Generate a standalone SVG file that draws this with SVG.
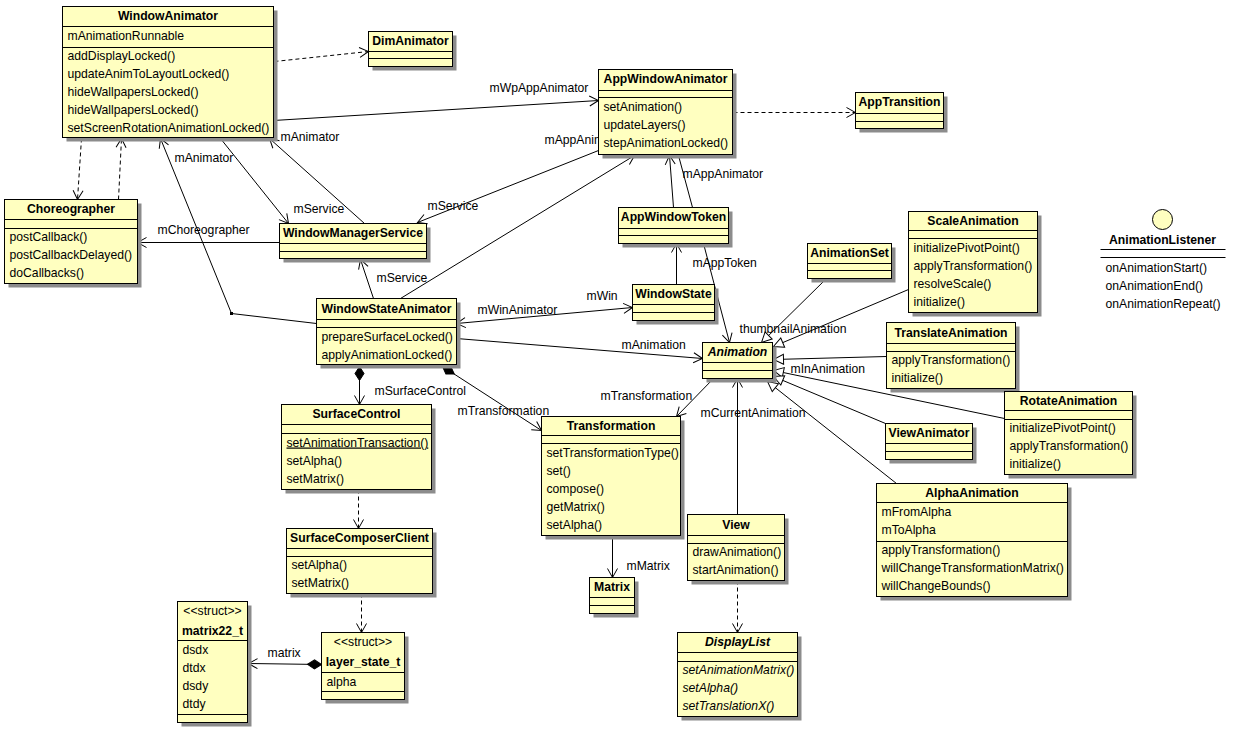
<svg xmlns="http://www.w3.org/2000/svg" width="1236" height="738" viewBox="0 0 1236 738">
<defs>
<style>
.sh{fill:#8c8c8c}
.bx{fill:#FFFFC0;stroke:#000;stroke-width:1}
.dv{stroke:#000;stroke-width:1;fill:none}
text{font-family:"Liberation Sans",Arial,Helvetica,sans-serif;font-size:12.2px;fill:#000}
.ti{font-weight:bold;text-anchor:middle}
.it{font-style:italic}
.ln{fill:none;stroke:#000;stroke-width:1}
.ds{stroke-dasharray:4,3}
.ar{marker-end:url(#arrow)}
.ge{marker-end:url(#tri)}
.dm{marker-start:url(#diamond)}
.ab{marker-start:url(#arrowS);marker-end:url(#arrow)}
</style>
<clipPath id="clipAwa"><rect x="500" y="120" width="97.5" height="40"/></clipPath>
<marker id="arrow" markerUnits="userSpaceOnUse" markerWidth="20" markerHeight="20" refX="0" refY="0" orient="auto" overflow="visible"><path d="M-9,-5 L0,0 L-9,5" fill="none" stroke="#000" stroke-width="1"/></marker>
<marker id="arrowS" markerUnits="userSpaceOnUse" markerWidth="20" markerHeight="20" refX="0" refY="0" orient="auto" overflow="visible"><path d="M9,-5 L0,0 L9,5" fill="none" stroke="#000" stroke-width="1"/></marker>
<marker id="tri" markerUnits="userSpaceOnUse" markerWidth="20" markerHeight="20" refX="0" refY="0" orient="auto" overflow="visible"><path d="M-10,-5 L0,0 L-10,5 Z" fill="#fff" stroke="#000" stroke-width="1"/></marker>
<marker id="diamond" markerUnits="userSpaceOnUse" markerWidth="20" markerHeight="20" refX="0" refY="0" orient="auto" overflow="visible"><path d="M0,0 L7,-4.5 L14,0 L7,4.5 Z" fill="#000" stroke="#000" stroke-width="1"/></marker>
</defs>
<rect width="1236" height="738" fill="#fff"/>
<g transform="translate(0.5,0.5)">
<g id="connectors">
<path class="ln ds ar" d="M274,61 L368,51"/>
<path class="ln ds ar" d="M81,138 L77,199"/>
<path class="ln ds ar" d="M118,199 L121,138"/>
<path class="ln ar" d="M273,120 L598,100"/>
<text x="489" y="91">mWpAppAnimator</text>
<path class="ln ds ar" d="M733,112 L855,112"/>
<path class="ln ar" d="M364,223 L269,138"/>
<text x="280" y="140">mAnimator</text>
<path class="ln ar" d="M220,138 L288,223"/>
<text x="174" y="161">mAnimator</text>
<text x="293" y="212">mService</text>
<path class="ln ar" d="M279,242 L137,242"/>
<text x="157" y="233">mChoreographer</text>
<path class="ln ar" d="M373,298 L360,259"/>
<text x="376" y="281">mService</text>
<path class="ln ar" d="M316,323 L231,313 L160,138"/>
<rect x="229.5" y="311.5" width="3" height="3" fill="#000"/>
<path class="ln ar" d="M400,298 L634,155"/>
<text x="544" y="143" clip-path="url(#clipAwa)">mAppAnimator</text>
<path class="ln ar" d="M598,150 L417,222"/>
<text x="427" y="209">mService</text>
<path class="ln ar" d="M673,207 L669,155"/>
<path class="ln" d="M678,155 L692,207"/>
<text x="682" y="177">mAppAnimator</text>
<path class="ln ar" d="M676,284 L676,243"/>
<path class="ln ar" d="M703,243 L729,342"/>
<text x="692" y="266">mAppToken</text>
<path class="ln ab" d="M456,323 L632,307"/>
<text x="477" y="313">mWinAnimator</text>
<text x="586" y="299">mWin</text>
<path class="ln ar" d="M456,338 L702,358"/>
<text x="621" y="348">mAnimation</text>
<path class="ln ar" d="M713,378 L676,416"/>
<text x="600" y="399">mTransformation</text>
<path class="ln dm ar" d="M442,366 L541,430"/>
<text x="374" y="394">mSurfaceControl</text>
<text x="457" y="414">mTransformation</text>
<path class="ln dm ar" d="M359,366 L359,404"/>
<path class="ln ds ar" d="M358,489 L358,528"/>
<path class="ln ds ar" d="M361,593 L361,632"/>
<path class="ln dm ar" d="M321,664 L248,663"/>
<text x="267" y="656">matrix</text>
<path class="ln ar" d="M612,535 L612,577"/>
<text x="626" y="569">mMatrix</text>
<path class="ln ar" d="M737,514 L737,378"/>
<text x="700" y="416">mCurrentAnimation</text>
<path class="ln ds ar" d="M737,580 L737,632"/>
<path class="ln ge" d="M825,279 L761,342"/>
<text x="739" y="332">thumbnailAnimation</text>
<path class="ln ge" d="M908,289 L773,346"/>
<path class="ln ge" d="M886,356 L773,359"/>
<path class="ln ge" d="M1004,418 L773,370"/>
<path class="ln ge" d="M885,423 L773,376"/>
<path class="ln ge" d="M896,483 L767,381"/>
<text x="790" y="372">mInAnimation</text>
</g>

<g id="WindowAnimator">
<rect class="sh" x="66" y="10" width="211" height="131"/>
<rect class="bx" x="62" y="6" width="211" height="131"/>
<path class="dv" d="M62,26H273M62,47H273"/>
<text class="ti" x="167.5" y="19">WindowAnimator</text>
<text x="67" y="39">mAnimationRunnable</text>
<text x="67" y="59">addDisplayLocked()</text>
<text x="67" y="77">updateAnimToLayoutLocked()</text>
<text x="67" y="95">hideWallpapersLocked()</text>
<text x="67" y="113">hideWallpapersLocked()</text>
<text x="67" y="131">setScreenRotationAnimationLocked()</text>
</g>
<g id="DimAnimator">
<rect class="sh" x="372" y="35" width="84" height="35"/>
<rect class="bx" x="368" y="31" width="84" height="35"/>
<path class="dv" d="M368,51H452M368,58H452"/>
<text class="ti" x="410" y="44">DimAnimator</text>
</g>
<g id="AppWindowAnimator">
<rect class="sh" x="602" y="73" width="134" height="85"/>
<rect class="bx" x="598" y="69" width="134" height="85"/>
<path class="dv" d="M598,90H732M598,97H732"/>
<text class="ti" x="665" y="82">AppWindowAnimator</text>
<text x="603" y="110">setAnimation()</text>
<text x="603" y="128">updateLayers()</text>
<text x="603" y="146">stepAnimationLocked()</text>
</g>
<g id="AppTransition">
<rect class="sh" x="859" y="96" width="88" height="36"/>
<rect class="bx" x="855" y="92" width="88" height="36"/>
<path class="dv" d="M855,113H943M855,121H943"/>
<text class="ti" x="899" y="105">AppTransition</text>
</g>
<g id="Choreographer">
<rect class="sh" x="8" y="203" width="133" height="84"/>
<rect class="bx" x="4" y="199" width="133" height="84"/>
<path class="dv" d="M4,219H137M4,228H137"/>
<text class="ti" x="70.5" y="212">Choreographer</text>
<text x="9" y="240">postCallback()</text>
<text x="9" y="258">postCallbackDelayed()</text>
<text x="9" y="276">doCallbacks()</text>
</g>
<g id="WindowManagerService">
<rect class="sh" x="283" y="227" width="147" height="35"/>
<rect class="bx" x="279" y="223" width="147" height="35"/>
<path class="dv" d="M279,243H426M279,251H426"/>
<text class="ti" x="352.5" y="236">WindowManagerService</text>
</g>
<g id="WindowStateAnimator">
<rect class="sh" x="320" y="302" width="140" height="66"/>
<rect class="bx" x="316" y="298" width="140" height="66"/>
<path class="dv" d="M316,319H456M316,327H456"/>
<text class="ti" x="386" y="312">WindowStateAnimator</text>
<text x="321" y="340">prepareSurfaceLocked()</text>
<text x="321" y="358">applyAnimationLocked()</text>
</g>
<g id="SurfaceControl">
<rect class="sh" x="285" y="408" width="150" height="85"/>
<rect class="bx" x="281" y="404" width="150" height="85"/>
<path class="dv" d="M281,424H431M281,433H431"/>
<text class="ti" x="356" y="417">SurfaceControl</text>
<text x="286" y="446" text-decoration="underline">setAnimationTransaction()</text>
<text x="286" y="464">setAlpha()</text>
<text x="286" y="482">setMatrix()</text>
</g>
<g id="SurfaceComposerClient">
<rect class="sh" x="290" y="532" width="146" height="65"/>
<rect class="bx" x="286" y="528" width="146" height="65"/>
<path class="dv" d="M286,548H432M286,556H432"/>
<text class="ti" x="359" y="541">SurfaceComposerClient</text>
<text x="291" y="568">setAlpha()</text>
<text x="291" y="586">setMatrix()</text>
</g>
<g id="matrix22_t">
<rect class="sh" x="181" y="605" width="70" height="121"/>
<rect class="bx" x="177" y="601" width="70" height="121"/>
<path class="dv" d="M177,640H247M177,714H247"/>
<text x="212" y="614" text-anchor="middle">&lt;&lt;struct&gt;&gt;</text>
<text class="ti" x="212" y="634">matrix22_t</text>
<text x="182" y="653">dsdx</text>
<text x="182" y="671">dtdx</text>
<text x="182" y="689">dsdy</text>
<text x="182" y="707">dtdy</text>
</g>
<g id="layer_state_t">
<rect class="sh" x="325" y="636" width="83" height="67"/>
<rect class="bx" x="321" y="632" width="83" height="67"/>
<path class="dv" d="M321,672H404M321,691H404"/>
<text x="362.5" y="645" text-anchor="middle">&lt;&lt;struct&gt;&gt;</text>
<text class="ti" x="362.5" y="665">layer_state_t</text>
<text x="326" y="685">alpha</text>
</g>
<g id="Transformation">
<rect class="sh" x="545" y="420" width="139" height="119"/>
<rect class="bx" x="541" y="416" width="139" height="119"/>
<path class="dv" d="M541,435H680M541,443H680"/>
<text class="ti" x="610.5" y="429">Transformation</text>
<text x="546" y="456">setTransformationType()</text>
<text x="546" y="474">set()</text>
<text x="546" y="492">compose()</text>
<text x="546" y="510">getMatrix()</text>
<text x="546" y="528">setAlpha()</text>
</g>
<g id="Matrix">
<rect class="sh" x="593" y="581" width="45" height="36"/>
<rect class="bx" x="589" y="577" width="45" height="36"/>
<path class="dv" d="M589,597H634M589,605H634"/>
<text class="ti" x="611.5" y="590">Matrix</text>
</g>
<g id="View">
<rect class="sh" x="691" y="518" width="97" height="66"/>
<rect class="bx" x="687" y="514" width="97" height="66"/>
<path class="dv" d="M687,535H784M687,543H784"/>
<text class="ti" x="735.5" y="528">View</text>
<text x="692" y="555">drawAnimation()</text>
<text x="692" y="573">startAnimation()</text>
</g>
<g id="DisplayList">
<rect class="sh" x="681" y="636" width="120" height="84"/>
<rect class="bx" x="677" y="632" width="120" height="84"/>
<path class="dv" d="M677,652H797M677,661H797"/>
<text class="ti it" x="737" y="645">DisplayList</text>
<text class="it" x="682" y="673">setAnimationMatrix()</text>
<text class="it" x="682" y="691">setAlpha()</text>
<text class="it" x="682" y="709">setTranslationX()</text>
</g>
<g id="AppWindowToken">
<rect class="sh" x="622" y="211" width="110" height="36"/>
<rect class="bx" x="618" y="207" width="110" height="36"/>
<path class="dv" d="M618,228H728M618,235H728"/>
<text class="ti" x="673" y="220">AppWindowToken</text>
</g>
<g id="WindowState">
<rect class="sh" x="636" y="288" width="82" height="36"/>
<rect class="bx" x="632" y="284" width="82" height="36"/>
<path class="dv" d="M632,304H714M632,312H714"/>
<text class="ti" x="673" y="297">WindowState</text>
</g>
<g id="Animation">
<rect class="sh" x="706" y="346" width="70" height="36"/>
<rect class="bx" x="702" y="342" width="70" height="36"/>
<path class="dv" d="M702,362H772M702,370H772"/>
<text class="ti it" x="737" y="355">Animation</text>
</g>
<g id="AnimationSet">
<rect class="sh" x="811" y="247" width="84" height="35"/>
<rect class="bx" x="807" y="243" width="84" height="35"/>
<path class="dv" d="M807,263H891M807,270H891"/>
<text class="ti" x="849" y="256">AnimationSet</text>
</g>
<g id="ScaleAnimation">
<rect class="sh" x="912" y="215" width="129" height="101"/>
<rect class="bx" x="908" y="211" width="129" height="101"/>
<path class="dv" d="M908,230H1037M908,238H1037"/>
<text class="ti" x="972.5" y="224">ScaleAnimation</text>
<text x="913" y="251">initializePivotPoint()</text>
<text x="913" y="269">applyTransformation()</text>
<text x="913" y="287">resolveScale()</text>
<text x="913" y="305">initialize()</text>
</g>
<g id="AnimationListener">
<circle cx="1162" cy="219" r="10" fill="#FFFFC0" stroke="#000"/>
<text class="ti" x="1162" y="243">AnimationListener</text>
<path class="dv" d="M1100,249H1225M1100,257H1225"/>
<text x="1105" y="271">onAnimationStart()</text>
<text x="1105" y="289">onAnimationEnd()</text>
<text x="1105" y="307">onAnimationRepeat()</text>
</g>
<g id="TranslateAnimation">
<rect class="sh" x="890" y="326" width="129" height="66"/>
<rect class="bx" x="886" y="322" width="129" height="66"/>
<path class="dv" d="M886,343H1015M886,351H1015"/>
<text class="ti" x="950.5" y="336">TranslateAnimation</text>
<text x="891" y="363">applyTransformation()</text>
<text x="891" y="381">initialize()</text>
</g>
<g id="RotateAnimation">
<rect class="sh" x="1008" y="395" width="128" height="83"/>
<rect class="bx" x="1004" y="391" width="128" height="83"/>
<path class="dv" d="M1004,410H1132M1004,419H1132"/>
<text class="ti" x="1068" y="404">RotateAnimation</text>
<text x="1009" y="431">initializePivotPoint()</text>
<text x="1009" y="449">applyTransformation()</text>
<text x="1009" y="467">initialize()</text>
</g>
<g id="ViewAnimator">
<rect class="sh" x="889" y="427" width="87" height="36"/>
<rect class="bx" x="885" y="423" width="87" height="36"/>
<path class="dv" d="M885,443H972M885,451H972"/>
<text class="ti" x="928.5" y="436">ViewAnimator</text>
</g>
<g id="AlphaAnimation">
<rect class="sh" x="880" y="487" width="191" height="113"/>
<rect class="bx" x="876" y="483" width="191" height="113"/>
<path class="dv" d="M876,502H1067M876,541H1067"/>
<text class="ti" x="971.5" y="496">AlphaAnimation</text>
<text x="881" y="515">mFromAlpha</text>
<text x="881" y="533">mToAlpha</text>
<text x="881" y="553">applyTransformation()</text>
<text x="881" y="571">willChangeTransformationMatrix()</text>
<text x="881" y="589">willChangeBounds()</text>
</g>
</g>
</svg>
